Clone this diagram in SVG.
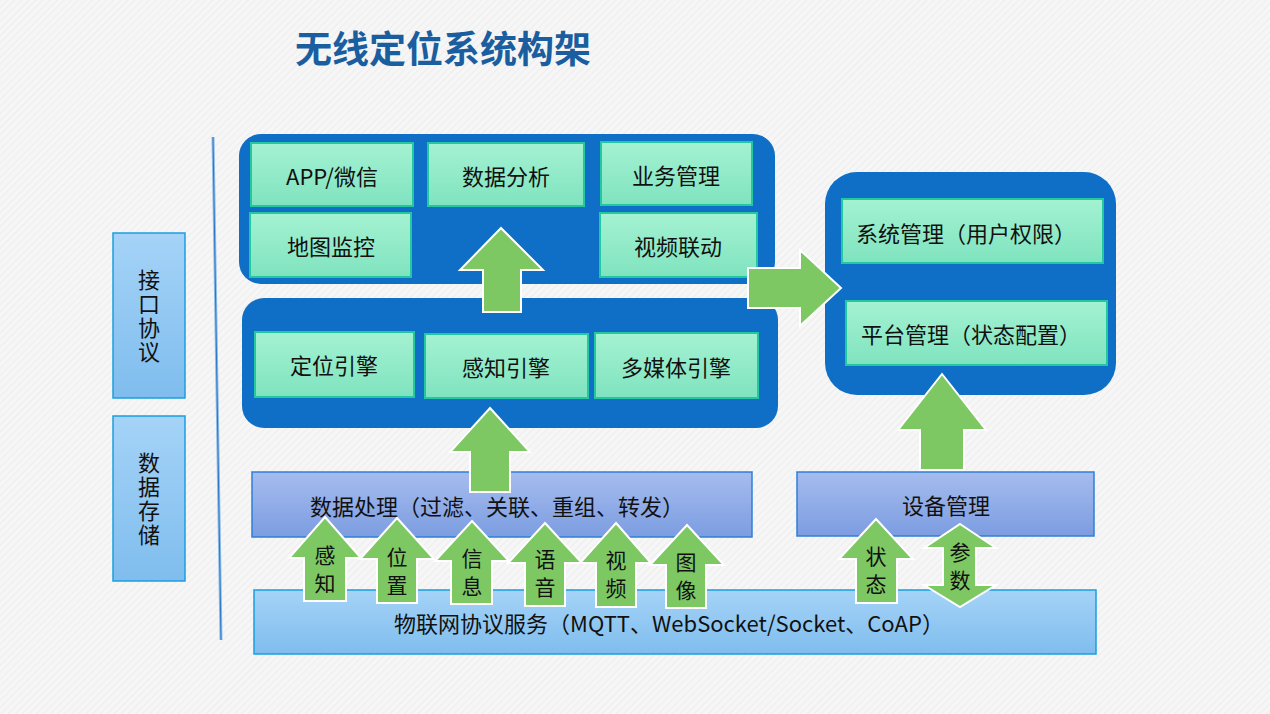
<svg xmlns="http://www.w3.org/2000/svg" width="1270" height="714" viewBox="0 0 1270 714">
<defs>
<pattern id="bgp" patternUnits="userSpaceOnUse" width="5" height="5" patternTransform="rotate(45)">
<rect width="5" height="5" fill="#f6f6f6"/>
<line x1="0" y1="0" x2="0" y2="5" stroke="#ebebeb" stroke-width="1.5"/>
</pattern>
<linearGradient id="gMint" x1="0" y1="0" x2="0" y2="1">
<stop offset="0" stop-color="#a4f2d2"/>
<stop offset="1" stop-color="#7fe3bf"/>
</linearGradient>
<linearGradient id="gPurple" x1="0" y1="0" x2="0" y2="1">
<stop offset="0" stop-color="#a6bcee"/>
<stop offset="1" stop-color="#7c9de1"/>
</linearGradient>
<linearGradient id="gSky" x1="0" y1="0" x2="0" y2="1">
<stop offset="0" stop-color="#a5d3f7"/>
<stop offset="1" stop-color="#7fbdee"/>
</linearGradient>
</defs>
<style>
.cont{fill:#0f6ec6;}
.mint{fill:url(#gMint);stroke:#22c9a0;stroke-width:2;}
.purp{fill:url(#gPurple);stroke:#2f7fd6;stroke-width:1.5;}
.sky{fill:url(#gSky);stroke:#1a9ee0;stroke-width:1.5;}
.t{font-family:"Noto Sans CJK SC","Microsoft YaHei",sans-serif;font-size:22px;fill:#111;text-anchor:middle;dominant-baseline:central;}
.tv{font-family:"Noto Sans CJK SC","Microsoft YaHei",sans-serif;font-size:22px;fill:#111;text-anchor:middle;writing-mode:vertical-rl;letter-spacing:2px;}
.tva{font-family:"Noto Sans CJK SC","Microsoft YaHei",sans-serif;font-size:21px;fill:#111;text-anchor:middle;writing-mode:vertical-rl;letter-spacing:7px;}
.arr{fill:#7ec864;stroke:#ffffff;stroke-width:2;stroke-linejoin:miter;}
</style>
<rect width="1270" height="714" fill="url(#bgp)"/>

<text x="443" y="47" font-family="'Noto Sans CJK SC','Microsoft YaHei',sans-serif" font-size="37" font-weight="bold" fill="#1b5e9f" text-anchor="middle" dominant-baseline="central">无线定位系统构架</text>

<line x1="213" y1="137" x2="221" y2="640" stroke="#8dbbe8" stroke-width="3"/>
<line x1="213" y1="137" x2="221" y2="640" stroke="#2a76c6" stroke-width="1"/>

<g id="n-jiekou">
<rect x="113" y="233" width="72" height="165" class="sky"/>
<text class="tv" x="149" y="317">接口协议</text>
</g>
<g id="n-cunchu">
<rect x="113" y="416" width="72" height="165" class="sky"/>
<text class="tv" x="149" y="500">数据存储</text>
</g>

<g id="n-app-layer">
<rect x="239" y="134" width="536" height="150" rx="22" class="cont"/>
</g>
<g id="n-app"><rect x="251" y="143" width="162" height="63" class="mint"/><text class="t" x="332" y="175">APP/微信</text></g>
<g id="n-analysis"><rect x="428" y="143" width="156" height="63" class="mint"/><text class="t" x="506" y="175">数据分析</text></g>
<g id="n-business"><rect x="601" y="142" width="151" height="63" class="mint"/><text class="t" x="676" y="174">业务管理</text></g>
<g id="n-map"><rect x="250" y="213" width="161" height="64" class="mint"/><text class="t" x="331" y="245">地图监控</text></g>
<g id="n-video"><rect x="600" y="213" width="157" height="64" class="mint"/><text class="t" x="678" y="245">视频联动</text></g>

<g id="n-engine-layer">
<rect x="242" y="298" width="536" height="130" rx="22" class="cont"/>
</g>
<g id="n-loc"><rect x="255" y="332" width="159" height="65" class="mint"/><text class="t" x="334" y="364">定位引擎</text></g>
<g id="n-sense"><rect x="425" y="334" width="163" height="64" class="mint"/><text class="t" x="506" y="366">感知引擎</text></g>
<g id="n-media"><rect x="595" y="333" width="163" height="65" class="mint"/><text class="t" x="676" y="366">多媒体引擎</text></g>

<g id="n-sys-layer">
<rect x="825" y="172" width="291" height="223" rx="32" class="cont"/>
</g>
<g id="n-sys"><rect x="842" y="199" width="261" height="64" class="mint"/><text class="t" x="966" y="232">系统管理（用户权限）</text></g>
<g id="n-plat"><rect x="846" y="301" width="261" height="64" class="mint"/><text class="t" x="971" y="333">平台管理（状态配置）</text></g>

<g id="n-proc"><rect x="252" y="472" width="500" height="65" class="purp"/><text class="t" x="497" y="505">数据处理（过滤、关联、重组、转发）</text></g>
<g id="n-dev"><rect x="797" y="472" width="297" height="64" class="purp"/><text class="t" x="946" y="504">设备管理</text></g>
<g id="n-iot"><rect x="254" y="590" width="842" height="64" class="sky"/><text class="t" x="669" y="622">物联网协议服务（MQTT、WebSocket/Socket、CoAP）</text></g>

<g id="connectors">
<path class="arr" d="M501,228 L543,270 L521,270 L521,312 L483,312 L483,270 L460,270 Z"/>
<path class="arr" d="M841,288 L800,250 L800,268 L748,268 L748,308 L800,308 L800,326 Z"/>
<path class="arr" d="M490,408 L530,452 L510,452 L510,492 L470,492 L470,452 L450,452 Z"/>
<path class="arr" d="M942,374 L986,430 L964,430 L964,470 L920,470 L920,430 L898,430 Z"/>

<path class="arr" d="M325,517 L361,558 L346,558 L346,601 L304,601 L304,558 L289,558 Z"/>
<path class="arr" d="M397,518 L434,559 L417,559 L417,603 L377,603 L377,559 L360,559 Z"/>
<path class="arr" d="M472,521 L509,561 L492,561 L492,604 L451,604 L451,561 L435,561 Z"/>
<path class="arr" d="M545,523 L582,563 L565,563 L565,606 L525,606 L525,563 L508,563 Z"/>
<path class="arr" d="M616,523 L651,563 L636,563 L636,607 L596,607 L596,563 L580,563 Z"/>
<path class="arr" d="M687,525 L724,565 L706,565 L706,608 L666,608 L666,565 L650,565 Z"/>
<path class="arr" d="M876,519 L913,559 L897,559 L897,603 L856,603 L856,559 L839,559 Z"/>
<path class="arr" d="M960,524 L996,548 L976,548 L976,585 L996,585 L960,607 L924,585 L943,585 L943,548 L924,548 Z"/>

<text class="tva" x="325" y="573">感知</text>
<text class="tva" x="397" y="575">位置</text>
<text class="tva" x="472" y="576">信息</text>
<text class="tva" x="545" y="577">语音</text>
<text class="tva" x="616" y="578">视频</text>
<text class="tva" x="686" y="580">图像</text>
<text class="tva" x="876" y="574">状态</text>
<text class="tva" x="960" y="570">参数</text>
</g>
</svg>
